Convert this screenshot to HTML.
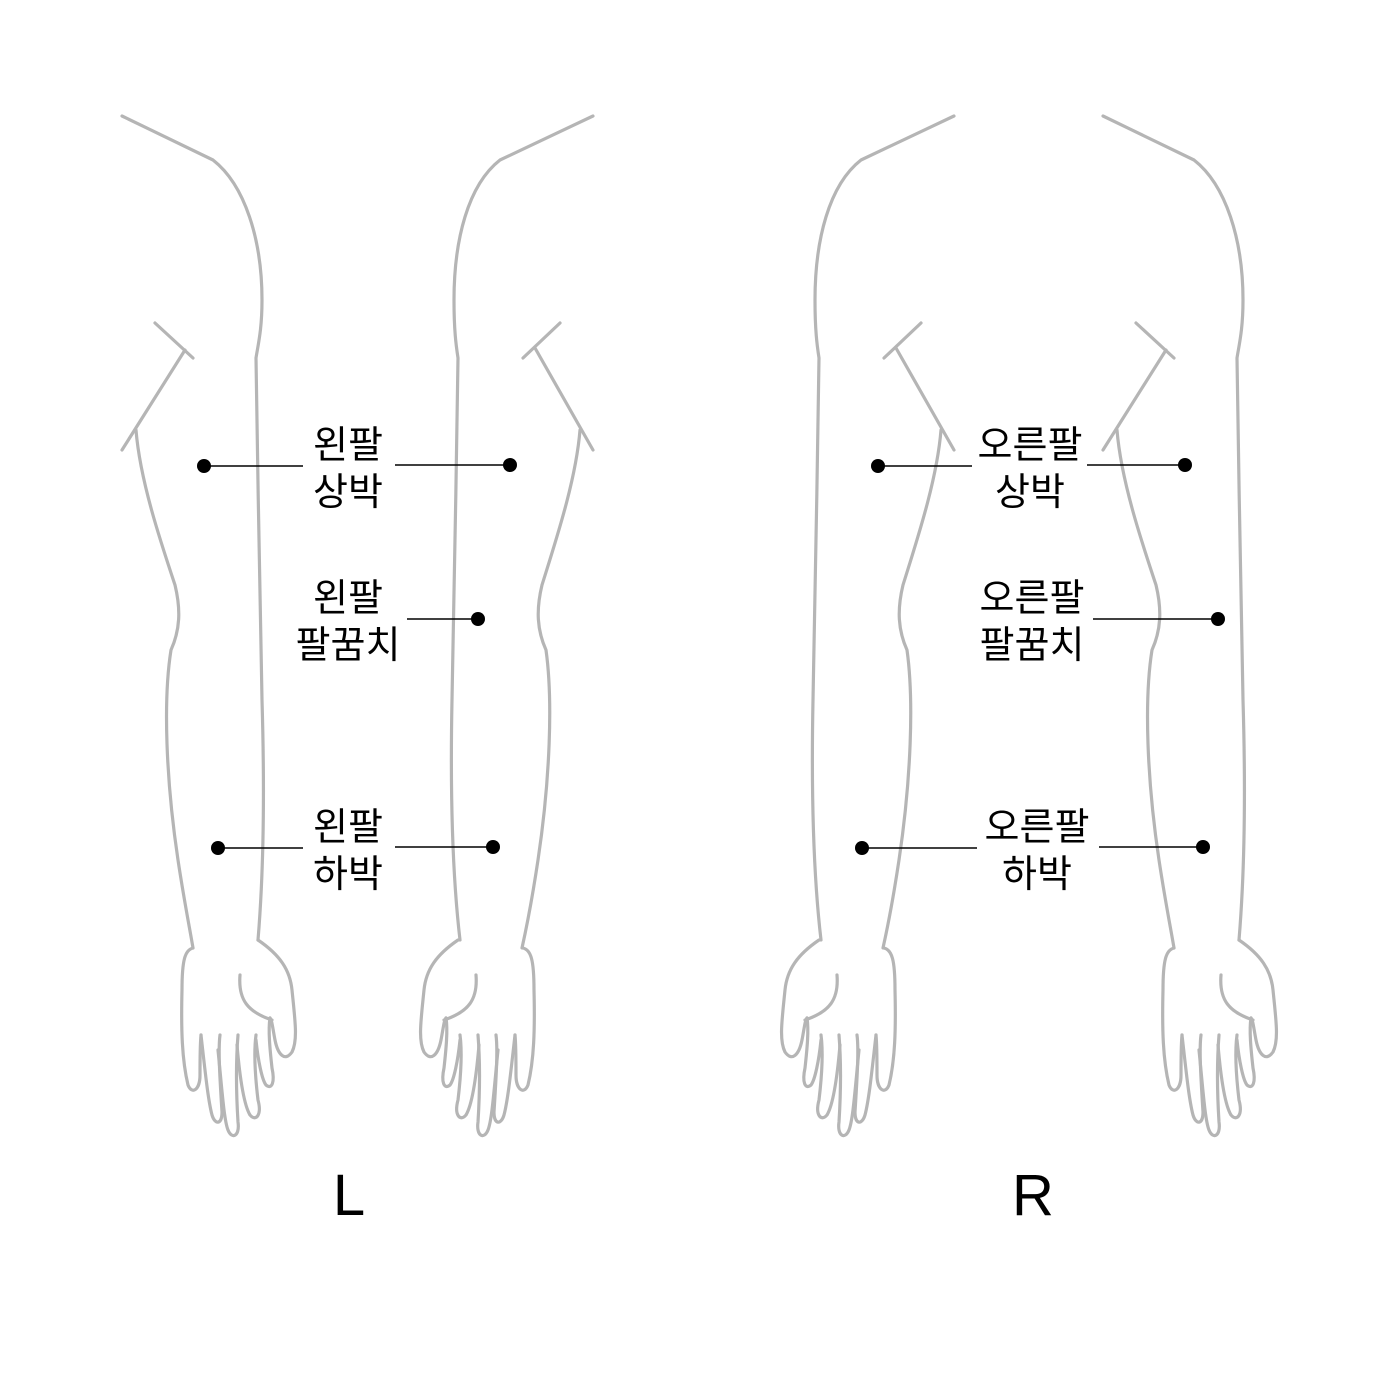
<!DOCTYPE html>
<html><head><meta charset="utf-8">
<style>
html,body{margin:0;padding:0;background:#fff;}
svg{display:block;}
text{font-family:"Liberation Sans","Noto Sans CJK KR","NanumGothic",sans-serif;fill:#000;}
.o{fill:none;stroke:#b5b5b5;stroke-width:3.2;stroke-linecap:round;stroke-linejoin:round;}
.ln{stroke:#000;stroke-width:1.6;}
</style></head>
<body>
<svg width="1400" height="1400" viewBox="0 0 1400 1400">
<defs>
  <!-- arm type A: shoulder goes out to the left (L figure left arm) -->
  <g id="armA">
    <path class="o" d="M122,116 L213,160 C245,185 262,240 262,300 C262,330 258,345 256,358 C258,480 259,560 262,700 C265,800 263,880 258,940"/>
    <path class="o" d="M155,323 L193,358 M185,350 L122,450"/>
    <path class="o" d="M136,430 C140,480 160,540 175,585 C181,610 180,630 171,650 C163,700 166,780 178,860 C184,900 190,930 193,948"/>
  </g>
  <!-- arm type B: shoulder goes out to the right (L figure right arm) -->
  <g id="armB">
    <path class="o" d="M593,116 L500,160 C468,185 454,240 454,300 C454,330 456,345 458,358 C456,480 455,560 452,700 C450,800 453,880 460,940"/>
    <path class="o" d="M560,323 L523,358 M535,348 L593,450"/>
    <path class="o" d="M580,430 C576,480 556,540 542,585 C536,610 537,630 546,650 C553,700 550,780 538,860 C532,900 526,930 522,948"/>
  </g>
  <!-- hand with back view -->
  <g id="handA">
    <path class="o" d="M193,948 C185,950 182,960 182,990 C181,1030 182,1060 188,1085 C192,1095 200,1090 200,1075 C200,1060 200,1045 201,1035"/>
    <path class="o" d="M258,940 C280,955 290,970 292,990 C295,1020 298,1040 292,1052 C285,1062 278,1055 275,1040 C273,1030 272,1020 270,1018"/>
    <path class="o" d="M240,975 C238,1000 248,1012 272,1020"/>
    <path class="o" d="M201,1035 C205,1070 208,1100 212,1115 C215,1125 222,1125 222,1112 C220,1080 218,1050 220,1035"/>
    <path class="o" d="M218,1050 C222,1090 224,1120 228,1130 C232,1140 240,1136 238,1122 C236,1090 236,1060 238,1035"/>
    <path class="o" d="M237,1045 C240,1080 244,1105 250,1115 C256,1122 262,1115 258,1100 C255,1075 254,1050 256,1035"/>
    <path class="o" d="M256,1040 C258,1060 262,1080 266,1085 C272,1090 275,1082 272,1068 C270,1050 268,1030 270,1018"/>
  </g>
</defs>

<!-- L figure -->
<g><use href="#armA"/><use href="#handA"/></g>
<g><use href="#armB"/>
  <g transform="translate(716,0) scale(-1,1)"><use href="#handA"/></g></g>

<!-- R figure -->
<g transform="translate(361,0)"><use href="#armB"/>
  <g transform="translate(716,0) scale(-1,1)"><use href="#handA"/></g></g>
<g transform="translate(981,0)"><use href="#armA"/><use href="#handA"/></g>

<!-- L labels -->
<g>
  <line class="ln" x1="204" y1="466" x2="303" y2="466"/><circle cx="204" cy="466" r="7"/>
  <line class="ln" x1="395" y1="465" x2="510" y2="465"/><circle cx="510" cy="465" r="7"/>
  <text x="348" y="458" font-size="38" text-anchor="middle">왼팔</text>
  <text x="348" y="505" font-size="38" text-anchor="middle">상박</text>
</g>
<g>
  <line class="ln" x1="407" y1="619" x2="478" y2="619"/><circle cx="478" cy="619" r="7"/>
  <text x="348" y="611" font-size="38" text-anchor="middle">왼팔</text>
  <text x="348" y="658" font-size="38" text-anchor="middle">팔꿈치</text>
</g>
<g>
  <line class="ln" x1="218" y1="848" x2="303" y2="848"/><circle cx="218" cy="848" r="7"/>
  <line class="ln" x1="395" y1="847" x2="493" y2="847"/><circle cx="493" cy="847" r="7"/>
  <text x="348" y="840" font-size="38" text-anchor="middle">왼팔</text>
  <text x="348" y="887" font-size="38" text-anchor="middle">하박</text>
</g>
<text x="349" y="1215" font-size="58" text-anchor="middle">L</text>

<!-- R labels -->
<g>
  <line class="ln" x1="878" y1="466" x2="972" y2="466"/><circle cx="878" cy="466" r="7"/>
  <line class="ln" x1="1087" y1="465" x2="1185" y2="465"/><circle cx="1185" cy="465" r="7"/>
  <text x="1030" y="458" font-size="38" text-anchor="middle">오른팔</text>
  <text x="1030" y="505" font-size="38" text-anchor="middle">상박</text>
</g>
<g>
  <line class="ln" x1="1093" y1="619" x2="1218" y2="619"/><circle cx="1218" cy="619" r="7"/>
  <text x="1032" y="611" font-size="38" text-anchor="middle">오른팔</text>
  <text x="1032" y="658" font-size="38" text-anchor="middle">팔꿈치</text>
</g>
<g>
  <line class="ln" x1="862" y1="848" x2="977" y2="848"/><circle cx="862" cy="848" r="7"/>
  <line class="ln" x1="1099" y1="847" x2="1203" y2="847"/><circle cx="1203" cy="847" r="7"/>
  <text x="1037" y="840" font-size="38" text-anchor="middle">오른팔</text>
  <text x="1037" y="887" font-size="38" text-anchor="middle">하박</text>
</g>
<text x="1033" y="1215" font-size="58" text-anchor="middle">R</text>
</svg>
</body></html>
